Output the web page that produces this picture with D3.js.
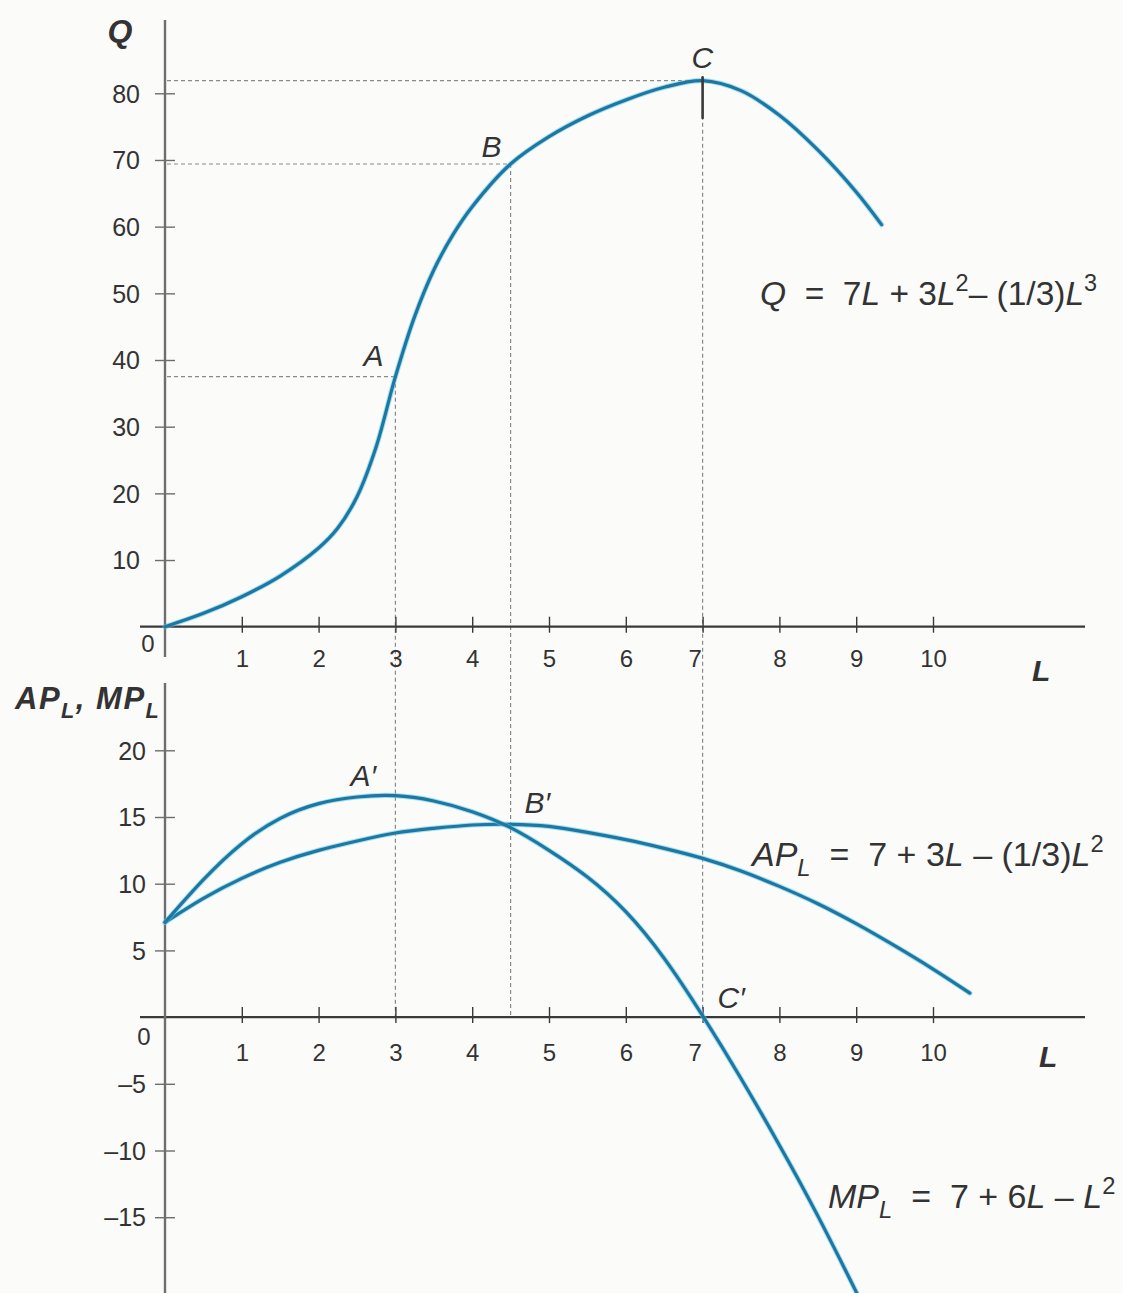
<!DOCTYPE html>
<html>
<head>
<meta charset="utf-8">
<script src="https://cdnjs.cloudflare.com/ajax/libs/d3/7.8.5/d3.min.js"></script>
<style>
  html, body { margin: 0; padding: 0; background: #fbfbfa; }
  svg { display: block; }
  text { font-family: "Liberation Sans", Arial, Helvetica, sans-serif; fill: #333; }
</style>
</head>
<body>
<svg id="chart" width="1123" height="1293"></svg>
<script>
// ---- tick values ----
const tickL = [1, 2, 3, 4, 5, 6, 7, 8, 9, 10];
const tickQ = [10, 20, 30, 40, 50, 60, 70, 80];
const tickP = [-15, -10, -5, 5, 10, 15, 20];

// ---- total product Q(L) ----
const qL   = [0, 0.5, 1, 1.5, 2, 2.25, 2.5, 2.75, 3, 3.25, 3.5, 3.75, 4, 4.5, 5, 5.5, 6, 6.5, 7, 7.5, 8, 8.5, 9, 9.33];
const qVal = [0, 2.0, 4.5, 7.6, 11.8, 14.8, 19.5, 27, 37.5, 46.5, 53.5, 58.8, 63, 69.4, 73.5, 76.6, 79.0, 80.9, 81.9, 80.4, 76.7, 71.5, 65.2, 60.3];

// ---- average product AP_L ----
const apL   = [0, 0.5, 1, 1.5, 2, 2.5, 3, 3.5, 4, 4.5, 5, 5.5, 6, 6.5, 7, 7.5, 8, 8.5, 9, 9.5, 10, 10.48];
const apVal = [7.1, 8.9, 10.4, 11.6, 12.5, 13.2, 13.8, 14.15, 14.4, 14.45, 14.3, 13.85, 13.3, 12.65, 11.9, 10.95, 9.8, 8.5, 7.0, 5.35, 3.6, 1.8];

// ---- marginal product MP_L ----
const mpL   = [0, 0.5, 1, 1.5, 2, 2.5, 3, 3.5, 4, 4.5, 5, 5.5, 6, 6.5, 7, 7.5, 8, 8.5, 9, 9.1];
const mpVal = [7.1, 10.3, 13.0, 14.9, 16.0, 16.5, 16.6, 16.2, 15.4, 14.2, 12.5, 10.5, 7.9, 4.4, 0.1, -4.6, -9.6, -14.9, -20.6, -21.8];

// ---- marked points ----
const topPointNames = ["A", "B", "C"];
const topPointL = [3, 4.5, 7];
const topPointQ = [37.5, 69.4, 81.9];
const botPointNames = ["A\u2032", "B\u2032", "C\u2032"];
const botPointL = [3, 4.5, 7];
const botPointV = [16.6, 14.4, 0];

const svg = d3.select("#chart");

// ---- scales ----
const x = d3.scaleLinear().domain([0, 10]).range([165, 933]);
const yTop = d3.scaleLinear().domain([0, 80]).range([626.7, 93.3]);
const yBot = d3.scaleLinear().domain([-15, 20]).range([1217.2, 750.3]);

const AXIS = "#3a3a3a", YAXIS = "#6e6e6e";
const CURVE_CORE = "#1d77a1", CURVE_EDGE = "#5cc6ea";
const DASH = "#8a8a8a";

// ---- dashed guide lines ----
const guides = svg.append("g").attr("stroke", DASH).attr("stroke-width", 1.2)
  .attr("stroke-dasharray", "4,3").attr("fill", "none");
topPointL.forEach((l, i) => {
  guides.append("line")
    .attr("x1", x(0) + 2).attr("x2", x(l))
    .attr("y1", yTop(topPointQ[i])).attr("y2", yTop(topPointQ[i]));
  guides.append("line")
    .attr("x1", x(l)).attr("x2", x(l))
    .attr("y1", yTop(topPointQ[i])).attr("y2", yBot(0));
});

// ---- axes ----
function styleXAxis(g, labelOffset) {
  g.select(".domain").remove();
  g.selectAll(".tick line").attr("y1", -10).attr("y2", 6).attr("stroke", AXIS).attr("stroke-width", 1.4);
  g.selectAll(".tick text").attr("y", labelOffset).attr("dy", null)
    .attr("font-size", 24).attr("fill", "#3a3a3a")
    .attr("dx", d => d === 7 ? -8 : 0);
}
function styleYAxis(g, labelOffset) {
  g.select(".domain").remove();
  g.selectAll(".tick line").attr("x1", -10).attr("x2", 10).attr("stroke", YAXIS).attr("stroke-width", 1.4);
  g.selectAll(".tick text").attr("x", labelOffset).attr("dy", "0.35em")
    .attr("font-size", 25).attr("fill", "#3a3a3a");
}

// top panel axes
svg.append("line").attr("x1", 140).attr("x2", 1085)
  .attr("y1", yTop(0)).attr("y2", yTop(0)).attr("stroke", AXIS).attr("stroke-width", 2.2);
svg.append("line").attr("x1", x(0)).attr("x2", x(0))
  .attr("y1", 20).attr("y2", 657).attr("stroke", YAXIS).attr("stroke-width", 2.4);
svg.append("g").attr("transform", `translate(0,${yTop(0)})`)
  .call(d3.axisBottom(x).tickValues(tickL).tickFormat(d3.format("d")))
  .call(g => styleXAxis(g, 40));
svg.append("g").attr("transform", `translate(${x(0)},0)`)
  .call(d3.axisLeft(yTop).tickValues(tickQ).tickFormat(d3.format("d")))
  .call(g => styleYAxis(g, -25));

// bottom panel axes
svg.append("line").attr("x1", 140).attr("x2", 1085)
  .attr("y1", yBot(0)).attr("y2", yBot(0)).attr("stroke", AXIS).attr("stroke-width", 2.2);
svg.append("line").attr("x1", x(0)).attr("x2", x(0))
  .attr("y1", 683).attr("y2", 1293).attr("stroke", YAXIS).attr("stroke-width", 2.4);
svg.append("g").attr("transform", `translate(0,${yBot(0)})`)
  .call(d3.axisBottom(x).tickValues(tickL).tickFormat(d3.format("d")))
  .call(g => styleXAxis(g, 44));
svg.append("g").attr("transform", `translate(${x(0)},0)`)
  .call(d3.axisLeft(yBot).tickValues(tickP).tickFormat(d => d < 0 ? "\u2013" + Math.abs(d) : d))
  .call(g => styleYAxis(g, -19));

// origin labels
svg.append("text").attr("x", 148).attr("y", yTop(0) + 25).attr("text-anchor", "middle")
  .attr("font-size", 24).attr("fill", "#3a3a3a").text("0");
svg.append("text").attr("x", 144).attr("y", yBot(0) + 28).attr("text-anchor", "middle")
  .attr("font-size", 24).attr("fill", "#3a3a3a").text("0");

// ---- curves ----
function drawCurve(ls, vs, yScale, curve) {
  const pts = ls.map((l, i) => [l, vs[i]]);
  const gen = d3.line().x(d => x(d[0])).y(d => yScale(d[1])).curve(curve);
  svg.append("path").attr("d", gen(pts)).attr("fill", "none")
    .attr("stroke", CURVE_EDGE).attr("stroke-width", 5.2).attr("stroke-opacity", 0.55)
    .attr("stroke-linecap", "round");
  svg.append("path").attr("d", gen(pts)).attr("fill", "none")
    .attr("stroke", CURVE_CORE).attr("stroke-width", 3.2).attr("stroke-linecap", "round");
}
drawCurve(qL, qVal, yTop, d3.curveCatmullRom.alpha(0.5));
drawCurve(apL, apVal, yBot, d3.curveNatural);
drawCurve(mpL, mpVal, yBot, d3.curveNatural);

// marker stroke at the maximum of Q
svg.append("line")
  .attr("x1", x(7)).attr("x2", x(7))
  .attr("y1", yTop(82.4)).attr("y2", yTop(76.3))
  .attr("stroke", "#3a3a3a").attr("stroke-width", 2.6).attr("stroke-linecap", "round");

// ---- point labels ----
const topOffsets = [[-32, -11], [-29, -7], [-11, -13]];
topPointNames.forEach((n, i) => {
  svg.append("text").attr("x", x(topPointL[i]) + topOffsets[i][0])
    .attr("y", yTop(topPointQ[i]) + topOffsets[i][1])
    .attr("font-size", 30).attr("font-style", "italic").text(n);
});
const botOffsets = [[-45, -10], [14, -12], [15, -9]];
botPointNames.forEach((n, i) => {
  svg.append("text").attr("x", x(botPointL[i]) + botOffsets[i][0])
    .attr("y", yBot(botPointV[i]) + botOffsets[i][1])
    .attr("font-size", 30).attr("font-style", "italic").text(n);
});

// ---- axis titles ----
svg.append("text").attr("x", 120).attr("y", 42).attr("text-anchor", "middle")
  .attr("font-size", 32).attr("font-weight", "bold").attr("font-style", "italic").text("Q");
svg.append("text").attr("x", 1032).attr("y", 681)
  .attr("font-size", 30).attr("font-weight", "bold").attr("font-style", "italic").text("L");
svg.append("text").attr("x", 1039).attr("y", 1067)
  .attr("font-size", 30).attr("font-weight", "bold").attr("font-style", "italic").text("L");

// rich text helper: segments of [text, italic, position]
function rich(xp, yp, size, segs, bold, spacing) {
  const t = svg.append("text").attr("x", xp).attr("y", yp).attr("font-size", size)
    .attr("font-weight", bold ? "bold" : "normal")
    .attr("letter-spacing", spacing || 0)
    .style("white-space", "pre");
  let shift = 0;
  segs.forEach(([s, ital, pos]) => {
    const target = pos === "sup" ? -0.42 * size : pos === "sub" ? 0.3 * size : 0;
    t.append("tspan").attr("dy", target - shift)
      .attr("font-size", pos ? size * 0.7 : size)
      .attr("font-style", ital ? "italic" : "normal").text(s);
    shift = target;
  });
  return t;
}

rich(15, 709, 31, [["AP", true], ["L", true, "sub"], [", ", true], ["MP", true], ["L", true, "sub"]], true, 1.5);

rich(760, 305, 33.5, [["Q", true], ["  =  ", false], ["7", false], ["L", true], [" + 3", false], ["L", true],
  ["2", false, "sup"], ["\u2013 (1/3)", false], ["L", true], ["3", false, "sup"]]);
rich(752, 866, 34, [["AP", true], ["L", true, "sub"], ["  =  ", false], ["7 + 3", false], ["L", true],
  [" \u2013 (1/3)", false], ["L", true], ["2", false, "sup"]]);
rich(828, 1208, 34, [["MP", true], ["L", true, "sub"], ["  =  ", false], ["7 + 6", false], ["L", true],
  [" \u2013 ", false], ["L", true], ["2", false, "sup"]]);
</script>
</body>
</html>
